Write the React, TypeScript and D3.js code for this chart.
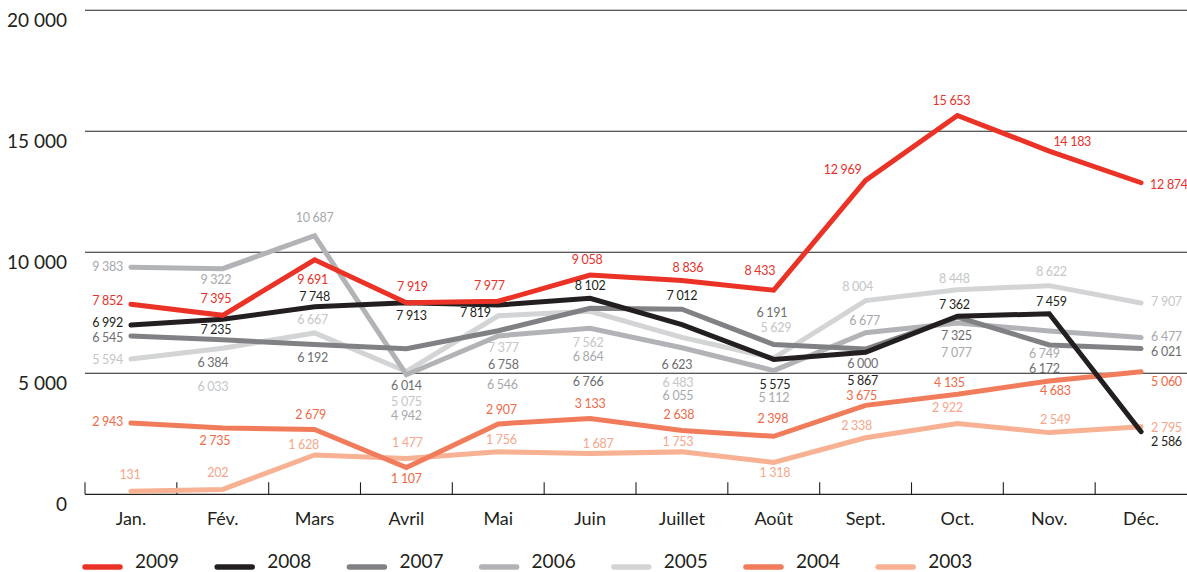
import { formatLocale, line, scaleBand, scaleLinear } from 'd3'

const months = ['Jan.', 'Fév.', 'Mars', 'Avril', 'Mai', 'Juin', 'Juillet', 'Août', 'Sept.', 'Oct.', 'Nov.', 'Déc.']
const years = ['2009', '2008', '2007', '2006', '2005', '2004', '2003']
const yTicks = [0, 5000, 10000, 15000, 20000]

const v2009 = [7852, 7395, 9691, 7919, 7977, 9058, 8836, 8433, 12969, 15653, 14183, 12874]
const v2008 = [6992, 7235, 7748, 7913, 7819, 8102, 7012, 5575, 5867, 7362, 7459, 2586]
// the 2007 line is drawn higher in June/July than its printed numbers
const v2007 = [6545, 6384, 6192, 6014, 6758, 7690, 7650, 6191, 6000, 7325, 6172, 6021]
const printed2007 = [6545, 6384, 6192, 6014, 6758, 6766, 6623, 6191, 6000, 7325, 6172, 6021]
const v2006 = [9383, 9322, 10687, 4942, 6546, 6864, 6055, 5112, 6677, 7077, 6749, 6477]
const v2005 = [5594, 6033, 6667, 5075, 7377, 7562, 6483, 5629, 8004, 8448, 8622, 7907]
const v2004 = [2943, 2735, 2679, 1107, 2907, 3133, 2638, 2398, 3675, 4135, 4683, 5060]
const v2003 = [131, 202, 1628, 1477, 1756, 1687, 1753, 1318, 2338, 2922, 2549, 2795]

// label placement relative to each point [dx, dy]
const off2009 = [[-8, -2], [-7, -16], [-2, 21], [6, -15], [-9, -14], [-3, -14], [6, -12], [-14, -18], [-23, -10], [-6, -14], [23, -8], [9, 3]]
const off2008 = [[-8, -1], [-7, 12], [0, -9], [5, 14], [-23, 9], [0, -11], [0, -28], [1, 26], [-3, 30], [-3, -10], [2, -11], [10, 11]]
const off2007 = [[-8, 3], [-10, 24], [-2, 14], [0, 38], [5, 35], [-2, 75], [-5, 57], [-2, -31], [-3, 16], [-1, 20], [-5, 25], [10, 4]]
const off2006 = [[-8, 1], [-7, 12], [0, -17], [0, 42], [4, 50], [-2, 30], [-4, 49], [0, 28], [-1, -11], [-1, 31], [-5, 24], [10, 0]]
const off2005 = [[-8, 2], [-10, 40], [-2, -12], [0, 31], [5, 33], [-2, 33], [-4, 46], [2, -29], [-8, -13], [-3, -10], [2, -13], [10, 0]]
const off2004 = [[-8, 0], [-8, 14], [-4, -14], [0, 12], [3, -13], [0, -14], [-3, -15], [-1, -16], [-4, -9], [-8, -10], [6, 11], [10, 11]]
const off2003 = [[-1, -15], [-5, -16], [-11, -9], [1, -15], [3, -11], [8, -9], [-4, -9], [1, 11], [-9, -11], [-10, -15], [6, -12], [10, 2]]

const lineColors = ['#ea3326', '#231f20', '#808184', '#b2b3b6', '#d3d4d6', '#f07c5c', '#f8b193']
const labelColors = ['#e8312a', '#231f20', '#6d6e71', '#a7a9ac', '#c4c6c8', '#ef6a47', '#f6a68a']

const series = [
  { year: '2009', values: v2009, printed: v2009, off: off2009, janBeside: true },
  { year: '2008', values: v2008, printed: v2008, off: off2008, janBeside: true },
  { year: '2007', values: v2007, printed: printed2007, off: off2007, janBeside: true },
  { year: '2006', values: v2006, printed: v2006, off: off2006, janBeside: true },
  { year: '2005', values: v2005, printed: v2005, off: off2005, janBeside: true },
  { year: '2004', values: v2004, printed: v2004, off: off2004, janBeside: true },
  { year: '2003', values: v2003, printed: v2003, off: off2003, janBeside: false },
]

const fr = formatLocale({ decimal: ',', thousands: ' ', grouping: [3], currency: ['', ' €'] })
const fmt = fr.format(',d')

const W = 1187
const H = 572
const FONT = 'Lato, "Open Sans", sans-serif'
const INK = '#231f20'

export default function App() {
  const x = scaleBand<string>().domain(months).range([85, W]).padding(0)
  const bw = x.bandwidth()
  const cx = (m: string) => (x(m) ?? 0) + bw / 2
  const y = scaleLinear().domain([0, 20000]).range([494.3, 10.3])

  const path = line<number>()
    .x((_, i) => cx(months[i]))
    .y((d) => y(d))

  const legendStep = 132.2

  return (
    <svg width={W} height={H} style={{ position: 'absolute', left: 0, top: 0, background: '#fff' }} fontFamily={FONT}>
      {/* grid */}
      {yTicks.filter((t) => t > 0).map((t) => (
        <line key={t} x1={85} x2={W} y1={y(t)} y2={y(t)} stroke={INK} strokeWidth={1.1} />
      ))}
      {yTicks.map((t) => (
        <text key={'yl' + t} x={67} y={y(t) + 12} textAnchor="end" dominantBaseline="middle" fontSize={19} fill={INK}>
          {fmt(t)}
        </text>
      ))}

      {/* x axis */}
      <line x1={85} x2={W} y1={y(0)} y2={y(0)} stroke={INK} strokeWidth={1.3} />
      {months.map((m) => (
        <line key={'tk' + m} x1={x(m) ?? 0} x2={x(m) ?? 0} y1={y(0)} y2={y(0) - 12} stroke={INK} strokeWidth={1.1} />
      ))}
      {months.map((m) => (
        <text key={'ml' + m} x={cx(m)} y={520} textAnchor="middle" dominantBaseline="middle" fontSize={18} fill={INK}>
          {m}
        </text>
      ))}

      {/* lines, 2003 at the bottom */}
      {[...series].reverse().map((s) => {
        const idx = years.indexOf(s.year)
        return (
          <path
            key={'ln' + s.year}
            d={path(s.values) ?? ''}
            fill="none"
            stroke={lineColors[idx]}
            strokeWidth={5}
            strokeLinecap="round"
            strokeLinejoin="miter"
          />
        )
      })}

      {/* value labels */}
      {series.map((s) => {
        const idx = years.indexOf(s.year)
        return s.printed.map((v, i) => {
          const [dx, dy] = s.off[i]
          let anchor = 'middle'
          if (i === 0 && s.janBeside) anchor = 'end'
          if (i === months.length - 1) anchor = 'start'
          return (
            <text
              key={'vl' + s.year + i}
              x={cx(months[i]) + dx}
              y={y(s.values[i]) + dy}
              textAnchor={anchor}
              dominantBaseline="middle"
              fontSize={12.5}
              letterSpacing={-0.3}
              fill={labelColors[idx]}
            >
              {fmt(v)}
            </text>
          )
        })
      })}

      {/* legend */}
      {years.map((yr, i) => {
        const lx = 83 + i * legendStep
        return (
          <g key={'lg' + yr}>
            <line x1={lx + 2} x2={lx + 37} y1={567} y2={567} stroke={lineColors[i]} strokeWidth={5.5} strokeLinecap="round" />
            <text x={lx + 52} y={563} dominantBaseline="middle" fontSize={19} fill={INK}>
              {yr}
            </text>
          </g>
        )
      })}
    </svg>
  )
}
